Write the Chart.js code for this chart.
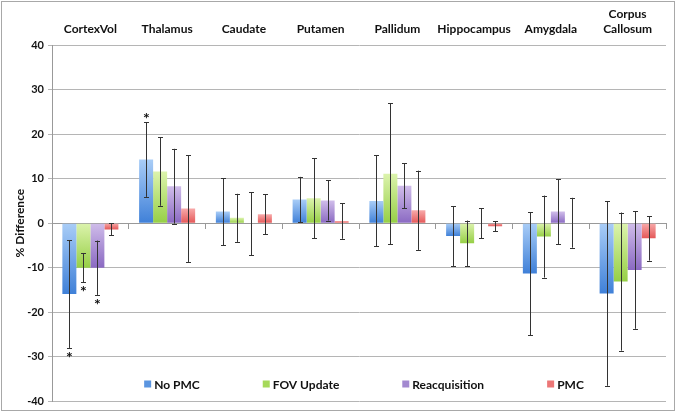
<!DOCTYPE html>
<html>
<head>
<meta charset="utf-8">
<script src="https://cdn.jsdelivr.net/npm/chart.js@4/dist/chart.umd.min.js"></script>
<style>
html,body{margin:0;padding:0;background:#fff;}
#wrap{width:676px;height:412px;position:relative;}
</style>
</head>
<body>
<div id="wrap"><canvas id="c" width="676" height="412"></canvas></div>
<script>
// ---- data ----
const categories = ['CortexVol','Thalamus','Caudate','Putamen','Pallidum','Hippocampus','Amygdala',['Corpus','Callosum']];
const seriesNames = ['No PMC','FOV Update','Reacquisition','PMC'];
const noPMC      = [-15.9, 14.3,  2.6, 5.3,  5.0, -2.9, -11.3, -15.8];
const noPMCErr   = [ 12.1,  8.4,  7.5, 5.1, 10.2,  6.7,  13.8,  20.7];
const fovUpdate  = [-10.0, 11.6,  1.2, 5.6, 11.1, -4.5,  -3.0, -13.1];
const fovErr     = [  3.3,  7.7,  5.4, 9.0, 15.8,  5.1,   9.2,  15.5];
const reacq      = [-10.0,  8.3, -0.1, 5.1,  8.4,  0.0,   2.6, -10.5];
const reacqErr   = [  6.1,  8.4,  7.1, 4.5,  5.1,  3.4,   7.3,  13.2];
const pmc        = [ -1.4,  3.3,  2.0, 0.5,  2.9, -0.7,   0.1,  -3.4];
const pmcErr     = [ 1.35, 12.0,  4.5, 4.0,  8.9,  1.1,   5.6,   5.0];
// significance markers (asterisks): 'below' = under the lower error end, 'above' = over the upper end
const noPMCSig   = ['below','above',null,null,null,null,null,null];
const fovSig     = ['below',null,null,null,null,null,null,null];
const reacqSig   = ['below',null,null,null,null,null,null,null];
const pmcSig     = [null,null,null,null,null,null,null,null];
const yTicks     = [-40,-30,-20,-10,0,10,20,30,40];

const FONT = 'Lato, "Open Sans", sans-serif';

function grad(top, bottom){
  return function(ctx){
    const chart = ctx.chart;
    if (!chart.chartArea || ctx.type !== 'data' || !chart.scales.y) return bottom;
    const ys = chart.scales.y;
    const p0 = ys.getPixelForValue(0), p1 = ys.getPixelForValue(ctx.raw);
    const a = Math.min(p0,p1), b = Math.max(p0,p1);
    if (b - a < 1) return top;
    const g = chart.ctx.createLinearGradient(0, a, 0, b);
    g.addColorStop(0, top);
    g.addColorStop(1, bottom);
    return g;
  };
}

const colors = [
  ['#a9cdf7','#3f80d8','#5b95e0'],
  ['#dcf3ad','#96cf45','#a6d95a'],
  ['#d0bdea','#8a69c2','#a389d0'],
  ['#f8aaaa','#e45757','#ec7777']
];
const values = [noPMC, fovUpdate, reacq, pmc];
const errs = [noPMCErr, fovErr, reacqErr, pmcErr];
const sigs = [noPMCSig, fovSig, reacqSig, pmcSig];

const datasets = seriesNames.map((n,i)=>({
  label: n,
  data: values[i],
  errors: errs[i],
  sig: sigs[i],
  legendColor: colors[i][2],
  backgroundColor: grad(colors[i][0], colors[i][1]),
  borderWidth: 0,
  categoryPercentage: 0.73,
  barPercentage: 1.0
}));

const errorBars = {
  id: 'errorBars',
  afterDatasetsDraw(chart){
    const c = chart.ctx, ys = chart.scales.y;
    c.save();
    chart.data.datasets.forEach((ds, di) => {
      const meta = chart.getDatasetMeta(di);
      meta.data.forEach((bar, j) => {
        const v = ds.data[j], e = ds.errors[j];
        const x = Math.round(bar.x) + 0.5;
        const yHi = ys.getPixelForValue(v + e), yLo = ys.getPixelForValue(v - e);
        c.strokeStyle = '#333';
        c.lineWidth = 1;
        c.beginPath();
        c.moveTo(x, yHi); c.lineTo(x, yLo);
        c.moveTo(x - 2.5, Math.round(yHi)+0.5); c.lineTo(x + 2.5, Math.round(yHi)+0.5);
        c.moveTo(x - 2.5, Math.round(yLo)+0.5); c.lineTo(x + 2.5, Math.round(yLo)+0.5);
        c.stroke();
        const s = ds.sig[j];
        if (s) {
          c.fillStyle = '#111';
          c.font = 'bold 16px ' + FONT;
          c.textAlign = 'center';
          c.textBaseline = 'alphabetic';
          const cy = s === 'below' ? yLo + 6 : yHi - 7;
          c.fillText('*', x, cy + 9);
        }
      });
    });
    c.restore();
  }
};

const customLegend = {
  id: 'customLegend',
  afterDraw(chart){
    const c = chart.ctx;
    c.save();
    c.font = 'bold 12px ' + FONT;
    const box = 7, gapText = 3, gapItem = 63;
    const items = chart.data.datasets.map(ds => ({t: ds.label, w: c.measureText(ds.label).width, col: ds.legendColor}));
    const total = items.reduce((s,it)=>s + box + gapText + it.w, 0) + gapItem*(items.length-1);
    let x = 364 - total/2;
    const yc = 384;
    items.forEach(it => {
      c.fillStyle = it.col;
      c.fillRect(x, yc - box/2, box, box);
      c.fillStyle = '#111';
      c.textAlign = 'left';
      c.textBaseline = 'middle';
      c.fillText(it.t, x + box + gapText, yc + 1);
      x += box + gapText + it.w + gapItem;
    });
    c.restore();
  }
};

const frame = {
  id: 'frame',
  afterDraw(chart){
    const c = chart.ctx;
    c.save();
    c.strokeStyle = '#a8a8a8';
    c.lineWidth = 1;
    c.strokeRect(1.5, 1.5, chart.width - 3, chart.height - 3);
    c.restore();
  }
};

new Chart(document.getElementById('c'), {
  type: 'bar',
  data: { labels: categories, datasets },
  plugins: [errorBars, customLegend, frame],
  options: {
    responsive: false,
    animation: false,
    layout: { padding: { left: 2, right: 10, top: 0, bottom: 9 } },
    plugins: { legend: { display: false }, tooltip: { enabled: false } },
    scales: {
      x: {
        position: 'top',
        grid: { display: false },
        border: { display: false },
        ticks: { color: '#111', font: { family: FONT, size: 12, weight: 'bold' }, padding: 1, maxRotation: 0, autoSkip: false },
        afterFit(s){ s.height = 45; }
      },
      x0: {
        type: 'category',
        position: { y: 0 },
        grid: { display: true, drawOnChartArea: false, offset: true, tickLength: 5, color: '#999' },
        border: { display: true, color: '#999' },
        ticks: { display: false }
      },
      y: {
        min: -40, max: 40,
        afterBuildTicks(s){ s.ticks = yTicks.map(v => ({value: v})); },
        grid: { color: '#b5b5b5', tickLength: 4 },
        border: { display: true, color: '#999' },
        ticks: { color: '#111', font: { family: FONT, size: 11, weight: 'bold' }, padding: 4 },
        title: { display: true, text: '% Difference', color: '#111', font: { family: FONT, size: 12, weight: 'bold' }, padding: { top: 11, bottom: 0 } },
        afterFit(s){ s.width = 50; }
      }
    }
  }
});
</script>
</body>
</html>
